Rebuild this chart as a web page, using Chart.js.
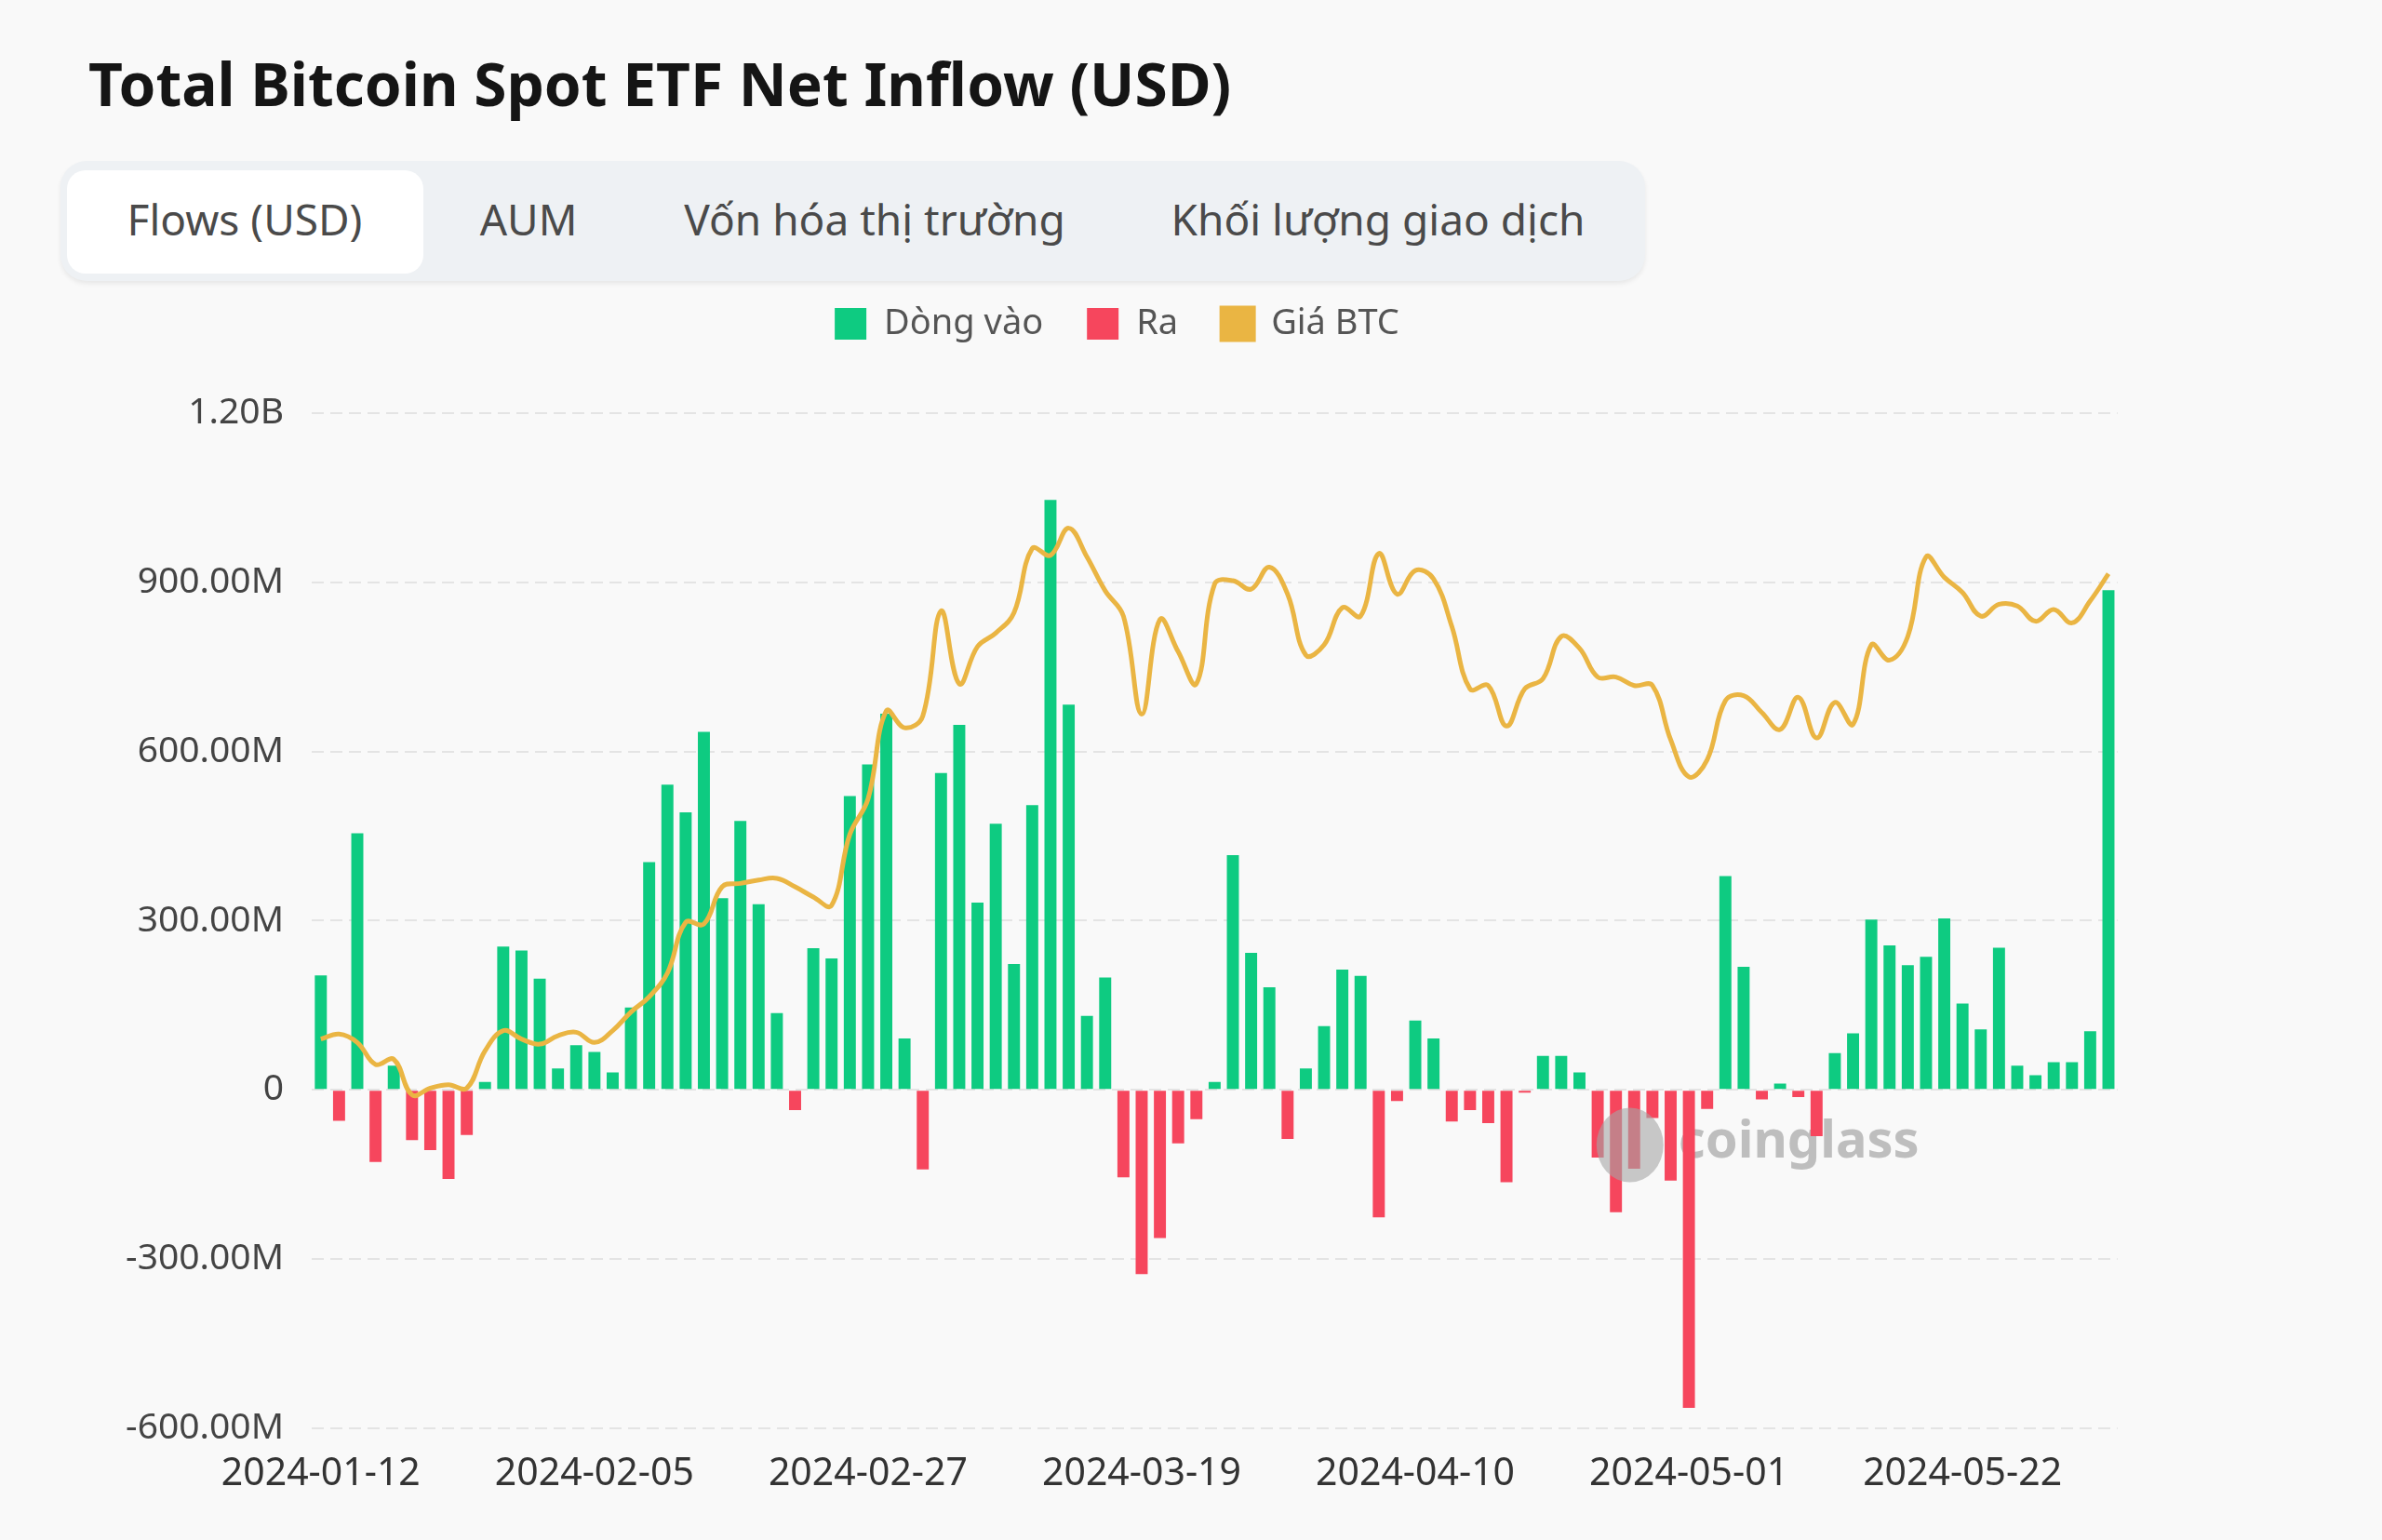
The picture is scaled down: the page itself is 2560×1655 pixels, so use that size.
<!DOCTYPE html>
<html>
<head>
<meta charset="utf-8">
<script src="https://cdn.jsdelivr.net/npm/chart.js@4.4.1/dist/chart.umd.min.js"></script>
<style>
  html, body { margin: 0; padding: 0; }
  body {
    width: 2560px; height: 1655px; overflow: hidden; position: relative;
    background: #f9f9f9; font-family: "Noto Sans", "Open Sans", sans-serif;
  }
  #title {
    position: absolute; left: 95px; top: 50px; margin: 0;
    font-size: 64px; font-weight: 700; color: #151515; line-height: 80px; white-space: nowrap;
  }
  #tabs {
    position: absolute; left: 65px; top: 173px; width: 1703px; height: 129px;
    background: #eef1f4; border-radius: 28px; box-shadow: 0 3px 5px rgba(0,0,0,0.07);
  }
  #tabs .sel {
    position: absolute; left: 7px; top: 10px; width: 383px; height: 111px;
    background: #fff; border-radius: 20px;
  }
  #tabs span {
    position: absolute; top: 62px; transform: translate(-50%, -50%);
    font-size: 46px; color: #4a4a4a; white-space: nowrap;
  }
  #wrap { position: absolute; left: 118px; top: 282px; width: 2165px; height: 1373px; }
</style>
</head>
<body>
<h1 id="title">Total Bitcoin Spot ETF Net Inflow (USD)</h1>
<div id="tabs">
  <div class="sel"></div>
  <span style="left:198px">Flows (USD)</span>
  <span style="left:503px">AUM</span>
  <span style="left:875px">Vốn hóa thị trường</span>
  <span style="left:1416px">Khối lượng giao dịch</span>
</div>
<div id="wrap"><canvas id="flowChart"></canvas></div>
<script>
// trading days, first one shown on the chart is 2024-01-12
const dates = [
  '2024-01-12','2024-01-16','2024-01-17','2024-01-18','2024-01-19','2024-01-22','2024-01-23','2024-01-24','2024-01-25','2024-01-26','2024-01-29','2024-01-30','2024-01-31',
  '2024-02-01','2024-02-02','2024-02-05','2024-02-06','2024-02-07','2024-02-08','2024-02-09','2024-02-12','2024-02-13','2024-02-14','2024-02-15','2024-02-16','2024-02-20','2024-02-21','2024-02-22','2024-02-23','2024-02-26','2024-02-27','2024-02-28','2024-02-29',
  '2024-03-01','2024-03-04','2024-03-05','2024-03-06','2024-03-07','2024-03-08','2024-03-11','2024-03-12','2024-03-13','2024-03-14','2024-03-15','2024-03-18','2024-03-19','2024-03-20','2024-03-21','2024-03-22','2024-03-25','2024-03-26','2024-03-27','2024-03-28',
  '2024-04-01','2024-04-02','2024-04-03','2024-04-04','2024-04-05','2024-04-08','2024-04-09','2024-04-10','2024-04-11','2024-04-12','2024-04-15','2024-04-16','2024-04-17','2024-04-18','2024-04-19','2024-04-22','2024-04-23','2024-04-24','2024-04-25','2024-04-26','2024-04-29','2024-04-30',
  '2024-05-01','2024-05-02','2024-05-03','2024-05-06','2024-05-07','2024-05-08','2024-05-09','2024-05-10','2024-05-13','2024-05-14','2024-05-15','2024-05-16','2024-05-17','2024-05-20','2024-05-21','2024-05-22','2024-05-23','2024-05-24','2024-05-28','2024-05-29','2024-05-30','2024-05-31',
  '2024-06-03','2024-06-04'
];

// net flow per day, millions USD
const netFlow = [
  203, -55, 455, -128, 43, -89, -107, -158, -80, 14, 254, 247, 197,
  38, 79, 67, 31, 146, 404, 541, 492, 635, 340, 477, 329, 136, -36, 251, 233, 521, 577, 667, 91,
  -141, 562, 647, 332, 472, 223, 505, 1046, 683, 131, 199, -155, -327, -263, -95, -52, 14, 416, 243, 182,
  -87, 38, 113, 213, 202, -226, -20, 123, 91, -56, -36, -59, -164, -5, 60, 60, 31, -120, -217, -140, -50, -161,
  -564, -34, 379, 218, -17, 11, -13, -82, 65, 100, 302, 256, 221, 236, 304, 153, 107, 252, 43, 26, 49, 49,
  104, 886
];

// BTC close, USD
const btcPrice = [
  43000, 43300, 42800, 41500, 41800, 39700, 40100, 40300, 40100, 42300, 43500, 43000, 42700,
  43200, 43400, 42800, 43500, 44600, 45500, 46900, 49900, 49800, 52000, 52200, 52400, 52500, 52000, 51400, 50900, 55100, 57200, 62400, 61400,
  62100, 68300, 64000, 66200, 67000, 68200, 72000, 71600, 73200, 71500, 69500, 68000, 62200, 67800, 65900, 64000, 69900, 70100, 69600, 70900,
  69300, 65700, 66300, 68500, 68000, 71700, 69300, 70700, 70200, 67400, 63700, 63900, 61500, 63700, 64300, 66800, 66100, 64400, 64400, 63900, 63900, 60700,
  58500, 59500, 63000, 63300, 62300, 61300, 63200, 60800, 62900, 61600, 66300, 65400, 66800, 71500, 70300, 69400, 68000, 68700, 68600, 67700, 68400, 67600,
  68900, 70500
];

const xTickLabels = ['2024-01-12', '2024-02-05', '2024-02-27', '2024-03-19', '2024-04-10', '2024-05-01', '2024-05-22'];
const yTicks = [-600, -300, 0, 300, 600, 900, 1200];

const GREEN = '#0ecb81';
const RED = '#f6465d';
const GOLD = '#eab543';

function fmtFlow(v) {
  if (v === 0) return '0';
  if (Math.abs(v) >= 1000) return (v / 1000).toFixed(2) + 'B';
  return v.toFixed(2) + 'M';
}

// fixed legend height so the plot starts where the reference does
const legendHeight = {
  id: 'legendHeight',
  beforeLayout(chart) {
    const lg = chart.legend;
    if (lg && !lg._fixed) {
      const fit = lg.fit;
      lg.fit = function () { fit.call(this); this.height = 162; };
      lg._fixed = true;
    }
  }
};

// coinglass mark: text under the bars, logo over them
const watermark = {
  id: 'watermark',
  beforeDatasetsDraw(chart) {
    const { ctx, chartArea: a } = chart;
    const cx = a.left + a.width * 0.73;
    const cy = a.top + a.height * 0.721;
    ctx.save();
    ctx.font = '700 56px "Noto Sans", sans-serif';
    ctx.textBaseline = 'middle';
    ctx.fillStyle = 'rgba(170,170,170,0.75)';
    ctx.fillText('coinglass', cx + 52, cy - 2);
    ctx.restore();
  },
  afterDatasetsDraw(chart) {
    const { ctx, chartArea: a } = chart;
    const cx = a.left + a.width * 0.73;
    const cy = a.top + a.height * 0.721;
    ctx.save();
    ctx.fillStyle = 'rgba(165,165,165,0.6)';
    ctx.beginPath();
    ctx.ellipse(cx, cy, 36, 40, 0, 0, Math.PI * 2);
    ctx.fill();
    ctx.restore();
  }
};

new Chart(document.getElementById('flowChart'), {
  data: {
    labels: dates,
    datasets: [
      {
        type: 'bar',
        label: 'Dòng vào',
        data: netFlow.map(v => (v >= 0 ? v : null)),
        backgroundColor: GREEN,
        borderWidth: 0,
        grouped: false,
        categoryPercentage: 1,
        barPercentage: 0.66,
        order: 2
      },
      {
        type: 'bar',
        label: 'Ra',
        data: netFlow.map(v => (v < 0 ? v : null)),
        backgroundColor: RED,
        borderWidth: 0,
        grouped: false,
        categoryPercentage: 1,
        barPercentage: 0.66,
        order: 2
      },
      {
        type: 'line',
        label: 'Giá BTC',
        data: btcPrice,
        yAxisID: 'price',
        borderColor: GOLD,
        backgroundColor: GOLD,
        borderWidth: 5,
        pointRadius: 0,
        tension: 0.4,
        fill: false,
        order: 1
      }
    ]
  },
  options: {
    responsive: true,
    maintainAspectRatio: false,
    animation: false,
    devicePixelRatio: 1,
    layout: { padding: { left: 0, right: 0, top: 0, bottom: 29 } },
    plugins: {
      legend: {
        position: 'top',
        labels: {
          boxWidth: 34,
          boxHeight: 34,
          padding: 47,
          color: '#555',
          font: { family: '"Noto Sans", sans-serif', size: 38 },
          sort: (a, b) => a.datasetIndex - b.datasetIndex
        }
      },
      tooltip: { enabled: false }
    },
    scales: {
      x: {
        grid: { display: false },
        border: { display: false },
        ticks: {
          autoSkip: false,
          maxRotation: 0,
          minRotation: 0,
          padding: 17,
          color: '#333',
          font: { family: '"Noto Sans", sans-serif', size: 41 },
          callback: function (value, index) {
            const lbl = dates[index];
            return xTickLabels.includes(lbl) ? lbl : '';
          }
        }
      },
      y: {
        min: yTicks[0],
        max: yTicks[yTicks.length - 1],
        afterBuildTicks: axis => { axis.ticks = yTicks.map(v => ({ value: v })); },
        afterFit: axis => { axis.width = 217; },
        grid: { color: '#e4e4e4', lineWidth: 2, drawTicks: false },
        border: { display: false, dash: [13, 7] },
        ticks: {
          padding: 30,
          color: '#444',
          font: { family: '"Noto Sans", sans-serif', size: 39 },
          callback: v => fmtFlow(v)
        }
      },
      price: {
        position: 'right',
        display: false,
        min: 20000,
        max: 80000
      }
    }
  },
  plugins: [legendHeight, watermark]
});
</script>
</body>
</html>
